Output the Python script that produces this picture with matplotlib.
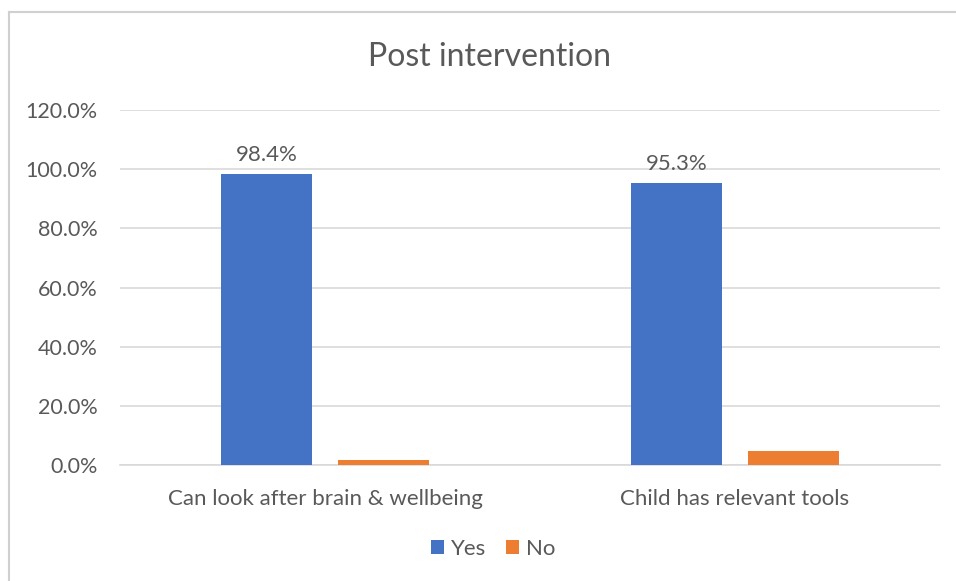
import matplotlib.pyplot as plt
import numpy as np
from matplotlib.lines import Line2D
from matplotlib.ticker import FuncFormatter

plt.rcParams['font.family'] = ['Lato', 'DejaVu Sans']

categories = ['Can look after brain & wellbeing', 'Child has relevant tools']
yes_pct = [98.4, 95.3]
no_pct = [1.6, 4.7]
series = ['Yes', 'No']
yticks = [0, 20, 40, 60, 80, 100, 120]

blue = '#4472C4'
orange = '#ED7D31'
grey_text = '#595959'

fig = plt.figure(figsize=(9.56, 5.81), dpi=100)
# plot area in pixel terms: x 120..940, y 110..465 (of 956x581)
ax = fig.add_axes([120 / 956, 1 - 465 / 581, 820 / 956, 355 / 581])

x = np.arange(len(categories))
w = 0.222
off = 0.142
b1 = ax.bar(x - off, yes_pct, w, color=blue, label=series[0], zorder=3)
b2 = ax.bar(x + off, no_pct, w, color=orange, label=series[1], zorder=3)

for rect, v in zip(b1, yes_pct):
    ax.text(rect.get_x() + rect.get_width() / 2, v + 3, f'{v:.1f}%',
            ha='center', va='bottom', fontsize=16, color=grey_text)

ax.set_xlim(-0.5, 1.5)
ax.set_ylim(0, 120)
ax.set_yticks(yticks)
ax.yaxis.set_major_formatter(FuncFormatter(lambda v, p: f'{v:.1f}%'))
ax.set_xticks(x)
ax.set_xticklabels(categories)
ax.grid(axis='y', color='#D9D9D9', linewidth=1.2, zorder=0)
for s in ['top', 'right', 'left']:
    ax.spines[s].set_visible(False)
ax.spines['bottom'].set_color('#D9D9D9')
ax.spines['bottom'].set_linewidth(1.2)
ax.tick_params(axis='both', length=0, labelcolor=grey_text)
ax.tick_params(axis='y', pad=16, labelsize=15.5)
ax.tick_params(axis='x', pad=17, labelsize=16)

fig.text(490 / 956, 1 - 57 / 581, 'Post intervention', ha='center', va='center',
         fontsize=23, color=grey_text)

leg = fig.legend(handles=[b1, b2], labels=series, loc='center',
                 bbox_to_anchor=(493 / 956, 1 - 549 / 581), ncol=2, frameon=False,
                 fontsize=16, handlelength=0.6, handleheight=0.6,
                 handletextpad=0.3, columnspacing=0.9)
for t in leg.get_texts():
    t.set_color(grey_text)

# chart border (left and top edges only)
fig.add_artist(Line2D([9 / 956, 9 / 956], [0, 1 - 12 / 581], transform=fig.transFigure,
                      color='#D0D0D0', linewidth=1.5))
fig.add_artist(Line2D([9 / 956, 1], [1 - 12 / 581, 1 - 12 / 581], transform=fig.transFigure,
                      color='#D0D0D0', linewidth=1.5))

fig.savefig('out.png', dpi=100)
